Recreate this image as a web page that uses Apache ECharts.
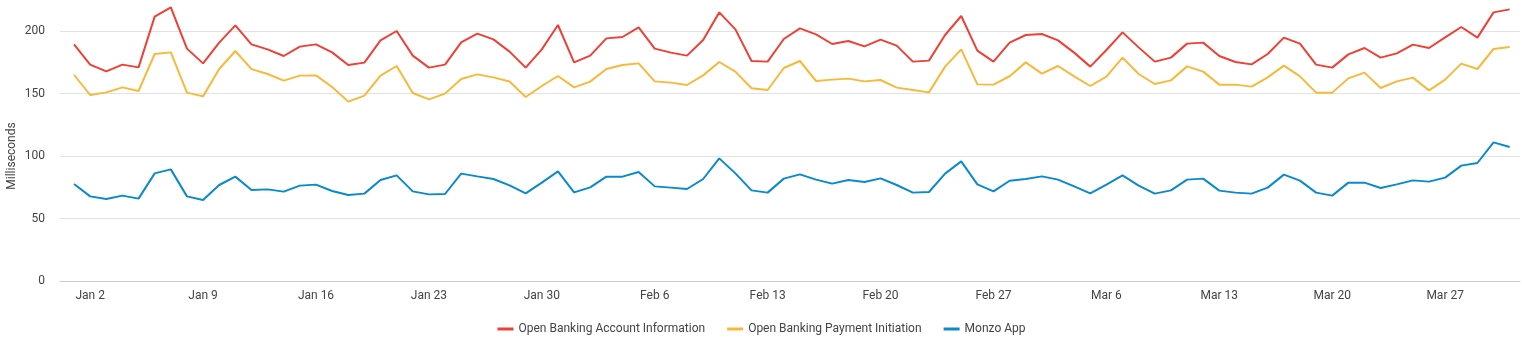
<!DOCTYPE html>
<html>
<head>
<meta charset="utf-8">
<script src="https://cdn.jsdelivr.net/npm/echarts@6/dist/echarts.min.js"></script>
<style>
html,body{margin:0;padding:0;background:#fff;}
#chart{width:1523px;height:341px;}
</style>
</head>
<body>
<div id="chart"></div>
<script>
// Day index 0 = Jan 1 (daily points through Mar 31)
const startDateUTC = Date.UTC(2022, 0, 1);
const monthNames = ['Jan','Feb','Mar','Apr','May','Jun','Jul','Aug','Sep','Oct','Nov','Dec'];
const tickDays = [1, 8, 15, 22, 29, 36, 43, 50, 57, 64, 71, 78, 85];
const seriesNames = ['Open Banking Account Information', 'Open Banking Payment Initiation', 'Monzo App'];
const yAxisTitle = 'Milliseconds';

const accountInformation = [189.3,173.1,167.7,173.1,170.9,211.5,218.9,185.9,174.1,190.7,204.5,189.3,
  185.3,180,187.5,189.3,182.9,172.8,174.7,192.5,200,180.3,170.7,173.1,190.9,197.9,193.3,183.5,
  170.7,185.3,204.8,174.9,180.3,194.1,195.2,202.9,185.9,182.7,180.3,192.8,214.9,201.3,176,
  175.5,193.6,202.1,197.3,189.6,192,187.7,193.1,188.3,175.5,176.3,196.8,212,184.3,175.5,
  190.7,196.8,197.6,192.5,182.7,171.5,184.8,198.9,186.9,175.5,178.7,189.9,190.7,180,175.2,173.3,
  181.6,194.7,189.9,173.1,170.7,181.3,186.4,178.7,182.1,189.1,186.4,194.9,203.2,194.7,214.9,217.3];

const paymentInitiation = [165,148.8,150.9,154.9,152,181.6,182.9,150.7,147.7,169.6,184,169.5,
  165.6,160.3,164.3,164.5,155.2,143.5,148.3,164.3,172,150.4,145.3,149.9,161.6,165.3,162.9,159.6,
  147.2,156,164,154.9,159.5,169.6,172.8,174.1,159.7,158.7,156.8,164.5,175.2,167.5,154.2,
  152.8,170.4,176,160,161.1,161.9,159.7,160.8,154.7,152.8,150.9,171.5,185.3,157.3,157.1,
  163.8,174.9,165.9,172,163.7,156,163.5,178.7,165.6,157.6,160.5,171.7,167.5,157.1,157.1,155.5,
  162.9,172.3,163.7,150.7,150.7,162.1,166.7,154.4,159.7,162.7,152.5,161.1,173.9,169.6,185.6,187.2];

const monzoApp = [77.6,67.7,65.6,68.3,65.9,86.1,89.3,67.7,64.8,76.8,83.5,72.8,
  73.3,71.5,76.3,77.1,72,68.8,69.9,80.8,84.5,71.7,69.3,69.6,85.9,83.7,81.6,76.5,
  70.1,78.7,87.7,70.9,74.9,83.5,83.5,87.2,75.7,74.7,73.6,81.6,98.1,86.1,72.5,
  70.7,81.9,85.3,81.1,77.9,80.8,79.2,82.1,76.8,70.7,71.2,85.9,95.7,77.3,71.7,
  80.2,81.6,83.7,81.1,75.7,70.1,77.1,84.5,76.3,69.9,72.5,81.1,81.9,72.3,70.7,69.9,
  74.7,85.1,80.3,70.7,68.3,78.7,78.7,74.4,77.3,80.5,79.5,82.7,92.3,94.4,110.9,107.2];

const colors = ['#ee4035', '#f8b93a', '#0a8acb'];

function dayLabel(n) {
  const d = new Date(startDateUTC + Math.round(n) * 86400000);
  return monthNames[d.getUTCMonth()] + ' ' + d.getUTCDate();
}
function toPairs(arr) { return arr.map((v, i) => [i, v]); }

const chart = echarts.init(document.getElementById('chart'), null, {renderer: 'canvas'});
const font = 'Roboto, "Noto Sans", sans-serif';
chart.setOption({
  animation: false,
  color: colors,
  textStyle: {fontFamily: font},
  grid: {left: 60, right: 3, top: 31, bottom: 60, containLabel: false, outerBoundsMode: 'none'},
  graphic: [{
    type: 'text', x: 12, y: 156, rotation: Math.PI / 2, silent: true,
    style: {text: yAxisTitle, fill: '#444', font: '12px Roboto, "Noto Sans", sans-serif', align: 'center', verticalAlign: 'middle'}
  }],
  legend: {
    left: 'center', top: 318,
    icon: 'rect', itemWidth: 16, itemHeight: 3, itemGap: 22,
    textStyle: {fontFamily: font, fontSize: 12, color: '#444'},
    data: seriesNames
  },
  xAxis: {
    type: 'value',
    min: -0.87, max: 89.64,
    axisLine: {show: true, lineStyle: {color: '#c5cbd8', width: 1}},
    axisTick: {show: false},
    splitLine: {show: false},
    axisLabel: {
      customValues: tickDays,
      formatter: v => dayLabel(v),
      fontFamily: font, fontSize: 12, color: '#444', margin: 9
    }
  },
  yAxis: {
    type: 'value',
    min: 0, max: 200, interval: 50,
    axisLine: {show: false},
    axisTick: {show: false},
    axisLabel: {fontFamily: font, fontSize: 12, color: '#444', margin: 15},
    splitLine: {lineStyle: {color: '#e2e2e2', width: 1}}
  },
  series: [
    {name: seriesNames[0], type: 'line', data: toPairs(accountInformation)},
    {name: seriesNames[1], type: 'line', data: toPairs(paymentInitiation)},
    {name: seriesNames[2], type: 'line', data: toPairs(monzoApp)}
  ].map(s => Object.assign(s, {showSymbol: false, symbol: 'none', clip: false, lineStyle: {width: 2}}))
});
</script>
</body>
</html>
